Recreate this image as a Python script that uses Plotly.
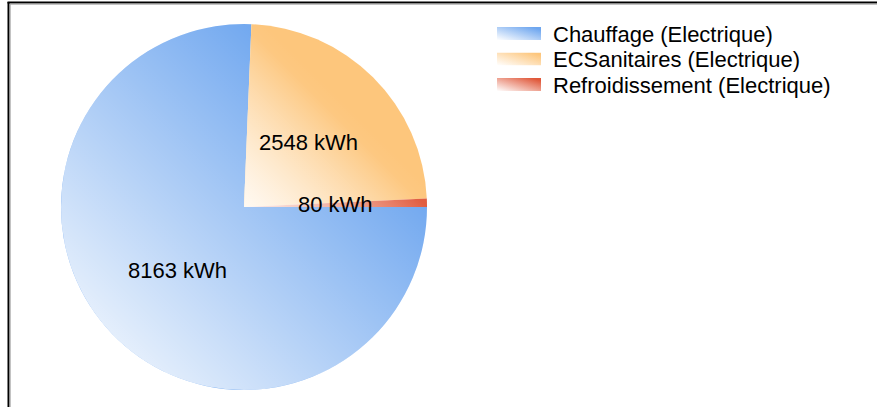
import math
import base64
import plotly.graph_objects as go

labels = ["Chauffage (Electrique)", "ECSanitaires (Electrique)", "Refroidissement (Electrique)"]
values = [8163, 2548, 80]
unit = "kWh"
colors = ["#6ea6ef", "#fdc67c", "#e0583a"]

W, H = 877, 407
CX, CY, R = 244, 207, 183  # pie geometry in pixels

FONT = "Liberation Sans, Arial, sans-serif"
FS = 22


def svg_uri(svg):
    return "data:image/svg+xml;base64," + base64.b64encode(svg.encode()).decode()


fig = go.Figure(go.Pie(
    labels=labels,
    values=values,
    sort=False,
    direction="clockwise",
    rotation=90,
    marker=dict(colors=colors, line=dict(width=0)),
    textinfo="none",
    hoverinfo="label+value",
    showlegend=False,
    domain=dict(x=[(CX - R) / W, (CX + R) / W], y=[1 - (CY + R) / H, 1 - (CY - R) / H]),
))

# value labels at half radius, along each slice's mid-angle (start at 3 o'clock, clockwise)
total = sum(values)
cum = 0.0
annotations = []
for v in values:
    mid = cum + v / 2.0
    ang = math.radians(-360.0 * mid / total)
    px = CX + 0.5 * R * math.cos(ang)
    py = CY - 0.5 * R * math.sin(ang)
    annotations.append(dict(
        x=px / W, y=1 - py / H, xref="paper", yref="paper",
        text=f"{v} {unit}", showarrow=False,
        font=dict(family=FONT, size=FS, color="#000000"),
        xanchor="center", yanchor="middle",
    ))
    cum += v

# soft white gradient overlays on the pie (light toward bottom-left)
pie_svg = (
    '<svg xmlns="http://www.w3.org/2000/svg" width="366" height="366" viewBox="0 0 366 366">'
    '<defs><linearGradient id="g" x1="1" y1="0" x2="0" y2="1">'
    '<stop offset="0.22" stop-color="#ffffff" stop-opacity="0"/>'
    '<stop offset="1" stop-color="#ffffff" stop-opacity="1"/>'
    '</linearGradient></defs>'
    '<circle cx="183" cy="183" r="183" fill="url(#g)"/></svg>'
)
a2 = math.radians(-360.0 * values[0] / total)  # start angle of the 2nd slice
qx = R * math.cos(a2)
qy = R - R * math.sin(a2)
quad_svg = (
    '<svg xmlns="http://www.w3.org/2000/svg" width="183" height="183" viewBox="0 0 183 183">'
    '<defs><linearGradient id="q" x1="0" y1="1" x2="1" y2="0">'
    '<stop offset="0" stop-color="#ffffff" stop-opacity="0.85"/>'
    '<stop offset="0.5" stop-color="#ffffff" stop-opacity="0"/>'
    '</linearGradient></defs>'
    f'<path d="M0,183 L{qx:.2f},{qy:.2f} A183,183 0 0,1 183,183 Z" fill="url(#q)"/></svg>'
)
images = [
    dict(source=svg_uri(pie_svg), xref="paper", yref="paper",
         x=(CX - R) / W, y=1 - (CY - R) / H, sizex=2 * R / W, sizey=2 * R / H,
         xanchor="left", yanchor="top", sizing="stretch", layer="above"),
    dict(source=svg_uri(quad_svg), xref="paper", yref="paper",
         x=CX / W, y=1 - (CY - R) / H, sizex=R / W, sizey=R / H,
         xanchor="left", yanchor="top", sizing="stretch", layer="above"),
]

# custom legend (gradient swatches + labels)
LX, LY0, LSTEP, SW, SH = 497, 27, 25.5, 44, 13
for i, (lab, col) in enumerate(zip(labels, colors)):
    top = LY0 + i * LSTEP
    sw_svg = (
        f'<svg xmlns="http://www.w3.org/2000/svg" width="{SW}" height="{SH}" viewBox="0 0 {SW} {SH}">'
        '<defs><linearGradient id="s" x1="0" y1="1" x2="1" y2="0">'
        f'<stop offset="0" stop-color="#ffffff"/><stop offset="0.9" stop-color="{col}"/>'
        '</linearGradient></defs>'
        f'<rect x="0" y="0" width="{SW}" height="{SH}" fill="url(#s)"/></svg>'
    )
    images.append(dict(source=svg_uri(sw_svg), xref="paper", yref="paper",
                       x=LX / W, y=1 - top / H, sizex=SW / W, sizey=SH / H,
                       xanchor="left", yanchor="top", sizing="stretch", layer="above"))
    annotations.append(dict(
        x=551 / W, y=1 - (top + SH / 2 + 0.5) / H, xref="paper", yref="paper",
        text=lab, showarrow=False, xanchor="left", yanchor="middle",
        font=dict(family=FONT, size=FS, color="#000000"),
    ))

shapes = [
    dict(type="line", xref="paper", yref="paper", x0=8.5 / W, x1=8.5 / W, y0=-0.05, y1=1 - 2 / H,
         line=dict(color="#000000", width=2)),
    dict(type="line", xref="paper", yref="paper", x0=10.2 / W, x1=10.2 / W, y0=-0.05, y1=1 - 4 / H,
         line=dict(color="#a8a8a8", width=1)),
    dict(type="line", xref="paper", yref="paper", x0=7.5 / W, x1=1.05, y0=1 - 2.5 / H, y1=1 - 2.5 / H,
         line=dict(color="#000000", width=2)),
    dict(type="line", xref="paper", yref="paper", x0=10 / W, x1=1.05, y0=1 - 4.2 / H, y1=1 - 4.2 / H,
         line=dict(color="#a8a8a8", width=1)),
]

fig.update_layout(
    width=W, height=H,
    margin=dict(l=0, r=0, t=0, b=0),
    paper_bgcolor="white",
    plot_bgcolor="white",
    showlegend=False,
    annotations=annotations,
    shapes=shapes,
    images=images,
)

fig.write_html("out.html", config={"displayModeBar": False},
               post_script="document.body.style.margin='0px';")
